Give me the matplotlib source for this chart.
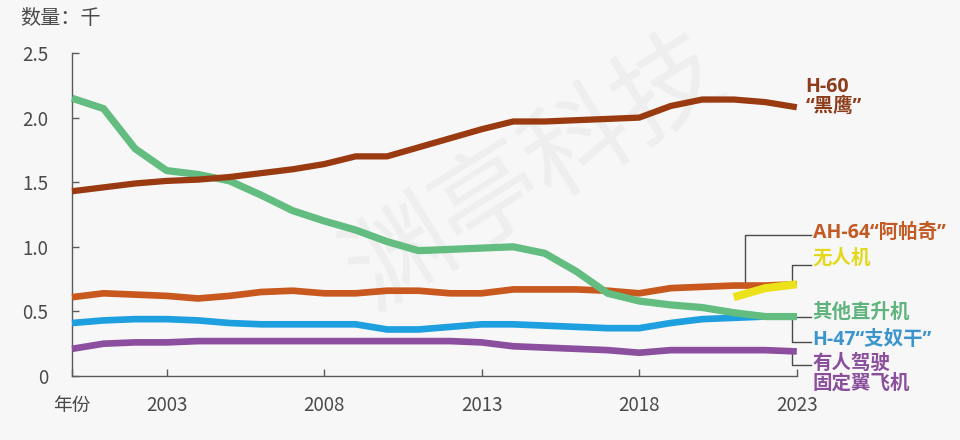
import matplotlib
matplotlib.use("Agg")
import matplotlib.pyplot as plt

plt.rcParams['font.family'] = ['Noto Sans CJK SC', 'DejaVu Sans']

years = list(range(2000, 2024))
h60 = [1.43, 1.46, 1.49, 1.51, 1.52, 1.54, 1.57, 1.60, 1.64, 1.70, 1.70, 1.77,
       1.84, 1.91, 1.97, 1.97, 1.98, 1.99, 2.00, 2.09, 2.14, 2.14, 2.12, 2.08]
other_heli = [2.15, 2.07, 1.76, 1.59, 1.56, 1.51, 1.40, 1.28, 1.20, 1.13, 1.04, 0.97,
              0.98, 0.99, 1.00, 0.95, 0.81, 0.64, 0.58, 0.55, 0.53, 0.49, 0.46, 0.46]
ah64 = [0.61, 0.64, 0.63, 0.62, 0.60, 0.62, 0.65, 0.66, 0.64, 0.64, 0.66, 0.66,
        0.64, 0.64, 0.67, 0.67, 0.67, 0.66, 0.64, 0.68, 0.69, 0.70, 0.70, 0.71]
h47 = [0.41, 0.43, 0.44, 0.44, 0.43, 0.41, 0.40, 0.40, 0.40, 0.40, 0.36, 0.36,
       0.38, 0.40, 0.40, 0.39, 0.38, 0.37, 0.37, 0.41, 0.44, 0.45, 0.46, 0.46]
fixed_wing = [0.21, 0.25, 0.26, 0.26, 0.27, 0.27, 0.27, 0.27, 0.27, 0.27, 0.27, 0.27,
              0.27, 0.26, 0.23, 0.22, 0.21, 0.20, 0.18, 0.20, 0.20, 0.20, 0.20, 0.19]
drone_years = [2021, 2022, 2023]
drone = [0.61, 0.68, 0.71]

xtick_pos = [2000, 2003, 2008, 2013, 2018, 2023]
xtick_lab = ['年份', '2003', '2008', '2013', '2018', '2023']
ytick_pos = [0, 0.5, 1.0, 1.5, 2.0, 2.5]
ytick_lab = ['0', '0.5', '1.0', '1.5', '2.0', '2.5']

bg = '#f7f7f7'
c_h60 = '#9a3a10'
c_ah64 = '#c8581e'
c_drone = '#ece21a'
c_other = '#63bd80'
c_h47 = '#1e9fdf'
c_fixed = '#8c4f9f'
c_axis = '#5a5a5a'

fig = plt.figure(figsize=(9.6, 4.4), dpi=100, facecolor=bg)
ax = fig.add_axes([0.075, 0.1455, 0.755, 0.734])
ax.set_facecolor(bg)

# faint watermark
ax.text(0.64, 0.63, '渊亭科技', transform=ax.transAxes, fontsize=76,
        color='#eeeeee', rotation=32, ha='center', va='center', zorder=0)

kw = dict(solid_capstyle='butt', solid_joinstyle='round', clip_on=False)
ax.plot(years, fixed_wing, color=c_fixed, lw=4.8, zorder=3, **kw)
ax.plot(years, h47, color=c_h47, lw=4.8, zorder=3, **kw)
ax.plot(years, ah64, color=c_ah64, lw=4.8, zorder=3, **kw)
ax.plot(years, other_heli, color=c_other, lw=5.2, zorder=4, **kw)
ax.plot(years, h60, color=c_h60, lw=4.5, zorder=4, **kw)
ax.plot(drone_years, drone, color=c_drone, lw=5.8, zorder=5, **kw)

ax.set_xlim(2000, 2023)
ax.set_ylim(0, 2.5)
ax.set_xticks(xtick_pos)
ax.set_xticklabels(xtick_lab)
ax.set_yticks(ytick_pos)
ax.set_yticklabels(ytick_lab)
ax.tick_params(direction='in', length=5, width=1, color=c_axis, labelcolor='#4a4a4a',
               labelsize=13.5)
ax.tick_params(axis='y', pad=17)
ax.tick_params(axis='x', pad=14)
for s in ['top', 'right']:
    ax.spines[s].set_visible(False)
for s in ['left', 'bottom']:
    ax.spines[s].set_color(c_axis)
    ax.spines[s].set_linewidth(1)

fig.text(20 / 960, 1 - 18 / 440, '数量：千', fontsize=14.5, color='#4a4a4a', va='center', ha='left')

# connectors and end labels
lx = 2023.45
lc = dict(color='#4a4a4a', lw=1, clip_on=False, zorder=2)
ax.plot([2021.35, 2021.35, lx], [ah64[-2], 1.09, 1.09], **lc)
ax.plot([2022.85, 2022.85, lx], [drone[-1], 0.86, 0.86], **lc)
ax.plot([2023.0, lx], [other_heli[-1], other_heli[-1]], **lc)
ax.plot([2022.85, 2022.85, lx], [h47[-1], 0.265, 0.265], **lc)
ax.plot([2022.85, 2022.85, lx], [fixed_wing[-1], 0.085, 0.085], **lc)

lab_fonts = ['Open Sans', 'Noto Sans CJK SC', 'DejaVu Sans']
tkw = dict(fontsize=14, fontweight='bold', va='center', ha='left', clip_on=False,
           family=lab_fonts)
ax.text(2023.27, 2.24, 'H-60', color='#8e3d1c', **tkw)
ax.text(2023.27, 2.08, '“黑鹰”', color='#8e3d1c', **tkw)
ax.text(2023.5, 1.11, 'AH-64“阿帕奇”', color='#c35a24', **tkw)
ax.text(2023.5, 0.91, '无人机', color='#e4d81c', **tkw)
ax.text(2023.5, 0.49, '其他直升机', color='#5fb37c', **tkw)
ax.text(2023.5, 0.28, 'H-47“支奴干”', color='#3b94cc', **tkw)
ax.text(2023.5, 0.093, '有人驾驶', color='#8a4f9c', **tkw)
ax.text(2023.5, -0.06, '固定翼飞机', color='#8a4f9c', **tkw)

fig.savefig('out.png', dpi=100, facecolor=bg)
